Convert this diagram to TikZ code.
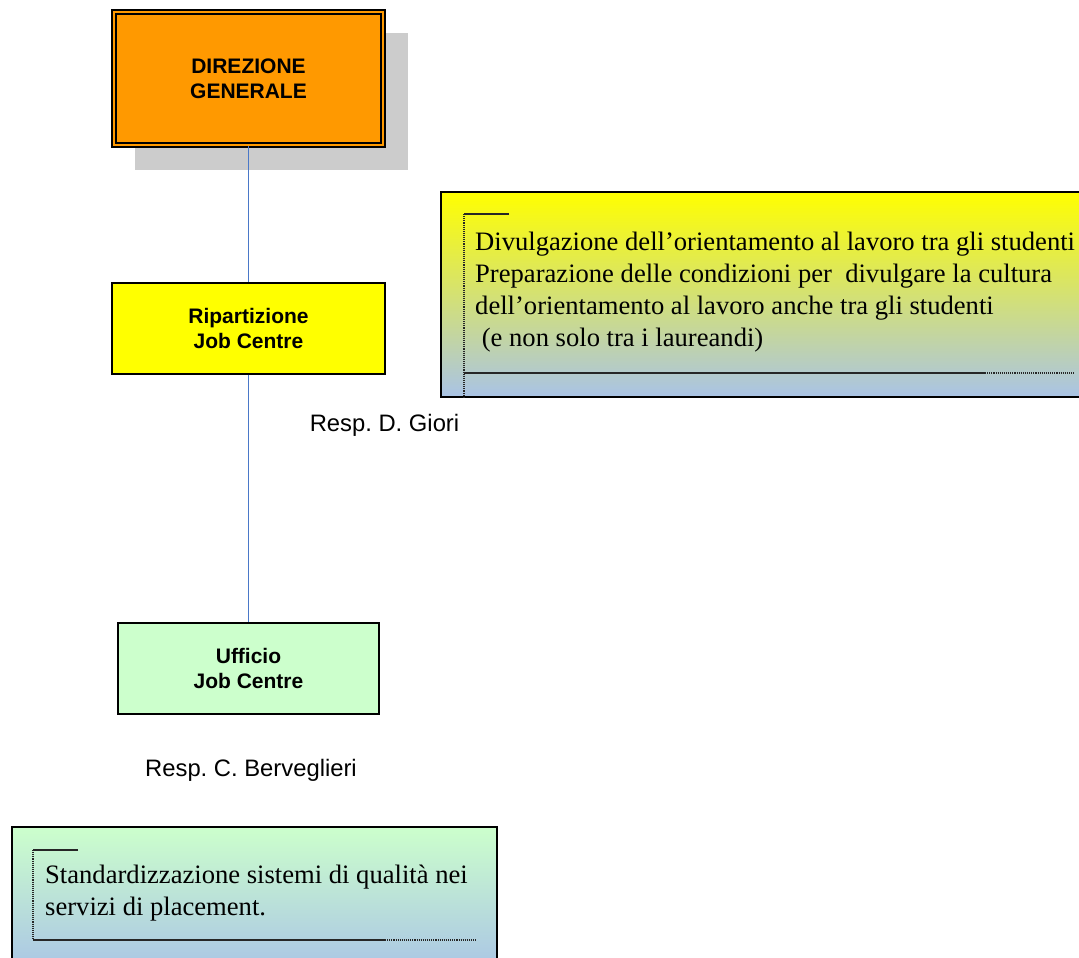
\documentclass[tikz,border=0pt]{standalone}
\usepackage{fontspec}
\setmainfont{Liberation Serif}
\setsansfont{Liberation Sans}
\usepackage{tikz}

\definecolor{dirorange}{HTML}{FF9900}
\definecolor{ripyellow}{HTML}{FFFF00}
\definecolor{uffgreen}{HTML}{CCFFCC}
\definecolor{objblue}{HTML}{A9C3E6}
\definecolor{linkblue}{HTML}{4A78C8}
\definecolor{shadowgray}{HTML}{CCCCCC}

\begin{document}
\frenchspacing
\begin{tikzpicture}[x=1pt, y=-1pt,
	unit/.style={shape=rectangle, draw=black, line width=1.3pt, align=center,
		font=\sffamily\bfseries\fontsize{21}{25}\selectfont},
	resp/.style={font=\sffamily\fontsize{23.8}{28}\selectfont},
	goal/.style={anchor=base west, align=left, inner sep=0pt,
		font=\rmfamily\fontsize{26.6}{31.7}\selectfont},
	link/.style={-, draw=linkblue, line width=1.6pt},
	mark line/.style={draw=black!85, line width=1.1pt}]

	\useasboundingbox (0,0) rectangle (1079,958);

	% shadow of the head office
	\fill[shadowgray] (135,33) rectangle (408,170);

	\node[unit, fill=dirorange, double=dirorange, double distance=2pt,
		line width=2pt, minimum width=269pt, minimum height=133pt] (dg) at (248.5,78.5) {DIREZIONE\\GENERALE};
	\node[unit, fill=ripyellow, minimum width=273pt, minimum height=91pt] (rip) at (248.5,328.5) {Ripartizione\\Job Centre};
	\node[unit, fill=uffgreen, minimum width=261pt, minimum height=91pt] (uff) at (248.5,668.5) {Ufficio\\Job Centre};

	\node[resp] (respG) at (384.5,425) {Resp. D. Giori};
	\node[resp] (respB) at (251,770) {Resp. C. Berveglieri};

	\path[link] (dg) edge (rip);
	\path[link] (rip) edge (uff);

	% objectives of the division
	\shade[top color=ripyellow, bottom color=objblue, draw=black, line width=1.3pt] (441,192) rectangle (1090,397);
	\draw[mark line] (509,214) -- (464,214);
	\draw[mark line, densely dotted] (464,214) -- (464,397);
	\draw[mark line] (464,373) -- (985,373);
	\draw[mark line, densely dotted] (985,373) -- (1075,373);
	\node[goal] (goalRip) at (475,346) {Divulgazione dell’orientamento al lavoro tra gli studenti\\
		Preparazione delle condizioni per\ \ divulgare la cultura\\
		dell’orientamento al lavoro anche tra gli studenti\\
		\ (e non solo tra i laureandi)};

	% objectives of the office
	\shade[top color=uffgreen, bottom color=objblue, draw=black, line width=1.3pt] (12,827) rectangle (497,975);
	\draw[mark line] (78,850) -- (33,850);
	\draw[mark line, densely dotted] (33,850) -- (33,940);
	\draw[mark line] (33,940) -- (385,940);
	\draw[mark line, densely dotted] (385,940) -- (476,940);
	\node[goal] (goalUff) at (45,915) {Standardizzazione sistemi di qualità nei\\
		servizi di placement.};

\end{tikzpicture}
\end{document}
